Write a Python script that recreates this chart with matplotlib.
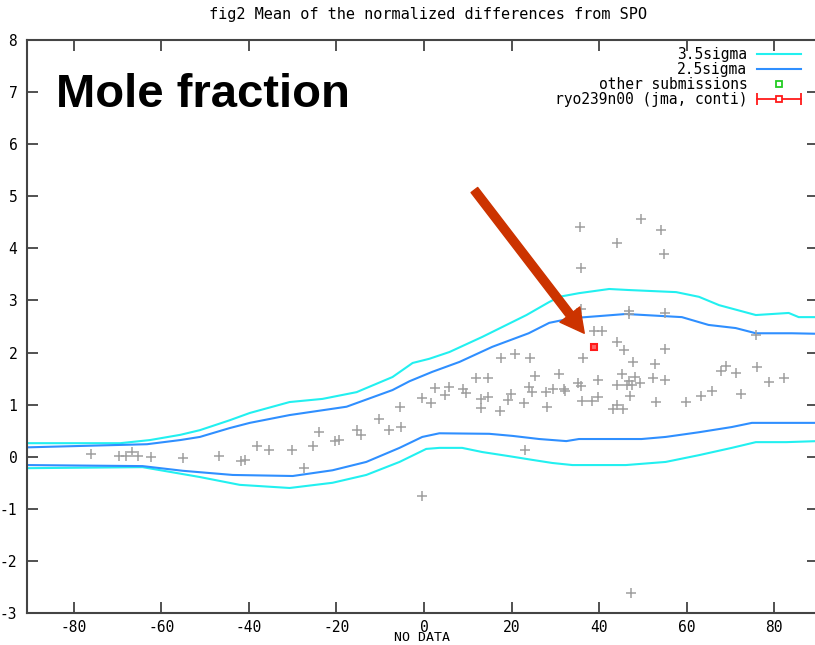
import numpy as np
import matplotlib
matplotlib.use("Agg")
import matplotlib.pyplot as plt
from matplotlib.lines import Line2D
from matplotlib.legend_handler import HandlerLine2D, HandlerTuple

plt.rcParams["axes.unicode_minus"] = False

# 3.5 sigma band (cyan)
cyan_up_x = [-90.7, -69.4, -62.6, -55.7, -51.2, -44.4, -39.8, -30.7, -23.2, -15.4, -7.2, -2.6, 1.2, 5.8,
             13.3, 23.4, 28.6, 30.9, 35.4, 42.3, 46.8, 57.6, 62.8, 67.4, 75.8, 83.3, 85.6, 90.0]
cyan_up_y = [0.26, 0.26, 0.32, 0.42, 0.51, 0.70, 0.84, 1.05, 1.11, 1.24, 1.53, 1.80, 1.88, 2.01,
             2.30, 2.72, 2.97, 3.07, 3.14, 3.22, 3.20, 3.16, 3.07, 2.91, 2.72, 2.76, 2.68, 2.68]
cyan_lo_x = [-90.7, -64.3, -51.2, -42.1, -30.7, -20.9, -13.2, -5.6, 0.5, 3.5, 8.7, 13.3, 19.5, 24.7,
             29.3, 33.9, 46.1, 55.2, 62.8, 70.3, 75.8, 82.7, 90.0]
cyan_lo_y = [-0.22, -0.20, -0.39, -0.54, -0.60, -0.50, -0.35, -0.10, 0.15, 0.17, 0.17, 0.09, 0.01, -0.06,
             -0.12, -0.16, -0.16, -0.10, 0.03, 0.17, 0.28, 0.28, 0.30]

# 2.5 sigma band (blue)
blue_up_x = [-90.7, -63.3, -55.7, -51.2, -44.4, -39.8, -30.7, -17.7, -7.2, -3.3, 1.9, 8.1, 15.6, 23.9,
             28.6, 33.8, 40.0, 46.1, 58.9, 65.0, 71.2, 75.8, 84.0, 90.0]
blue_up_y = [0.18, 0.24, 0.32, 0.38, 0.55, 0.65, 0.80, 0.96, 1.28, 1.45, 1.63, 1.82, 2.11, 2.37,
             2.57, 2.66, 2.70, 2.74, 2.68, 2.53, 2.47, 2.37, 2.37, 2.36]
blue_lo_x = [-90.7, -64.3, -55.1, -43.7, -30.0, -20.9, -13.2, -5.6, -0.4, 3.5, 14.9, 20.2, 26.3, 32.5,
             35.4, 49.7, 55.2, 62.8, 70.3, 74.9, 82.9, 90.0]
blue_lo_y = [-0.16, -0.18, -0.27, -0.35, -0.37, -0.26, -0.10, 0.17, 0.38, 0.45, 0.44, 0.40, 0.34, 0.30,
             0.34, 0.34, 0.38, 0.47, 0.57, 0.65, 0.65, 0.65]

# other submissions
other_x = [-76.1, -69.7, -68.1, -66.7, -65.4, -62.4, -55.1, -46.9, -41.7, -41.0, -38.2, -35.5, -30.2,
           -27.5, -25.4, -23.9, -20.4, -19.5, -15.2, -14.5, -10.4, -8.1, -5.4, -5.2, -0.4, -0.4, 1.5,
           2.6, 4.9, 5.6, 8.8, 9.7, 11.9, 12.9, 13.1, 14.5, 14.7, 17.4, 17.6, 19.2, 19.9, 20.8, 22.9,
           23.1, 24.0, 24.3, 24.7, 25.4, 27.9, 28.1, 29.5, 30.9, 32.0, 32.2, 35.2, 35.9, 36.1, 36.3,
           38.4, 38.8, 39.8, 39.8, 40.7, 35.7, 35.9, 35.9, 43.2, 44.1, 45.5, 44.1, 44.1, 45.7, 46.8,
           46.8, 49.6, 47.8, 52.8, 54.1, 54.8, 55.0, 55.0, 45.2, 48.2, 46.4, 46.8, 47.5, 49.4, 47.0,
           52.3, 55.0, 53.0, 59.8, 63.3, 65.7, 67.8, 69.0, 71.2, 72.4, 75.8, 76.0, 78.8, 82.2, 47.3,
           44.1]
other_y = [0.05, 0.01, 0.01, 0.09, 0.01, -0.01, -0.03, 0.01, -0.08, -0.06, 0.21, 0.13, 0.13,
           -0.22, 0.21, 0.47, 0.30, 0.32, 0.51, 0.42, 0.72, 0.51, 0.95, 0.57, 1.13, -0.75, 1.03,
           1.32, 1.19, 1.34, 1.30, 1.22, 1.51, 0.93, 1.11, 1.51, 1.15, 0.88, 1.90, 1.09, 1.21, 1.98, 1.03,
           0.13, 1.34, 1.90, 1.24, 1.55, 1.24, 0.95, 1.30, 1.59, 1.30, 1.26, 1.42, 1.36, 1.07, 1.90,
           1.07, 2.42, 1.15, 1.48, 2.42, 4.41, 3.62, 2.83, 0.91, 0.99, 0.91, 4.10, 2.20, 2.05, 2.80,
           2.74, 4.56, 1.82, 1.78, 4.35, 3.89, 2.76, 2.07, 1.59, 1.53, 1.38, 1.46, 1.38, 1.42, 1.17,
           1.51, 1.47, 1.05, 1.05, 1.16, 1.26, 1.64, 1.74, 1.61, 1.20, 2.34, 1.72, 1.43, 1.51, -2.62,
           1.38]

# highlighted submission
ryo_x = [38.9]
ryo_y = [2.10]

mono = "DejaVu Sans Mono"
fig = plt.figure(figsize=(8.15, 6.45), dpi=100)
ax = fig.add_axes([27 / 815, 1 - 613 / 645, 791 / 815, 573 / 645])

c_cyan = "#22f0f0"
c_blue = "#2f8fff"
c_red = "#ff1a1a"
ax.plot(cyan_up_x, cyan_up_y, color=c_cyan, lw=1.5)
ax.plot(cyan_lo_x, cyan_lo_y, color=c_cyan, lw=1.5)
ax.plot(blue_up_x, blue_up_y, color=c_blue, lw=1.5)
ax.plot(blue_lo_x, blue_lo_y, color=c_blue, lw=1.5)
ax.plot(other_x, other_y, ls="none", marker="+", ms=7, mew=1.1, color="#9f9f9f")
ax.plot(ryo_x, ryo_y, ls="none", marker="s", ms=5, mew=1.5, mec=c_red, mfc="#ff6666")

ax.set_xlim(-90.7, 90)
ax.set_ylim(-3, 8)
ax.set_xticks(np.arange(-80, 81, 20))
ax.set_yticks(np.arange(-3, 9, 1))
ax.tick_params(direction="in", length=8, width=1.2, color="#333333", top=True, right=True,
               labelsize=10.5)
for lab in ax.get_xticklabels() + ax.get_yticklabels():
    lab.set_family(mono)
ax.tick_params(axis="x", pad=5)
ax.tick_params(axis="y", pad=7)
for s in ax.spines.values():
    s.set_color("#444444")
    s.set_linewidth(1.5)
ax.set_xlabel("NO DATA", family=mono, fontsize=9.5, labelpad=-3)

fig.text(428 / 815, 1 - 15 / 645, "fig2 Mean of the normalized differences from SPO",
         family=mono, fontsize=11, ha="center", va="center")

# legend entry for the highlighted run: bar with end caps and open square
ryo_bar = Line2D([], [], color=c_red, lw=1.3)
ryo_caps = Line2D([], [], ls="none", marker="|", ms=9, mew=1.3, color=c_red)
ryo_box = Line2D([], [], ls="none", marker="s", ms=5, mew=1.3, mec=c_red, mfc="white")
handles = [Line2D([], [], color=c_cyan, lw=1.5),
           Line2D([], [], color=c_blue, lw=1.5),
           Line2D([], [], ls="none", marker="s", ms=5, mew=1.3, mec="#22cc22", mfc="none"),
           (ryo_bar, ryo_caps, ryo_box)]
labels = ["3.5sigma", "2.5sigma", "other submissions", "ryo239n00 (jma, conti)"]
ax.legend(handles, labels, loc="upper right", bbox_to_anchor=(0.988, 1.0), frameon=False,
          markerfirst=False, prop={"family": mono, "size": 10.5}, handlelength=3.0,
          handletextpad=0.7, labelspacing=0.0, borderaxespad=0.1,
          handler_map={ryo_caps: HandlerLine2D(numpoints=2, marker_pad=0.0),
                       tuple: HandlerTuple(ndivide=1, pad=0)})

fig.text(56 / 815, 1 - 107 / 645, "Mole fraction", family="Liberation Sans", weight="bold",
         fontsize=34, ha="left", va="baseline")

ax.annotate("", xy=(36.6, 2.37), xytext=(11.5, 5.12),
            arrowprops=dict(arrowstyle="simple,head_length=1.7,head_width=1.8,tail_width=0.6",
                            mutation_scale=10, color="#cc3300", shrinkA=0, shrinkB=0))

fig.savefig("out.png", dpi=100)
